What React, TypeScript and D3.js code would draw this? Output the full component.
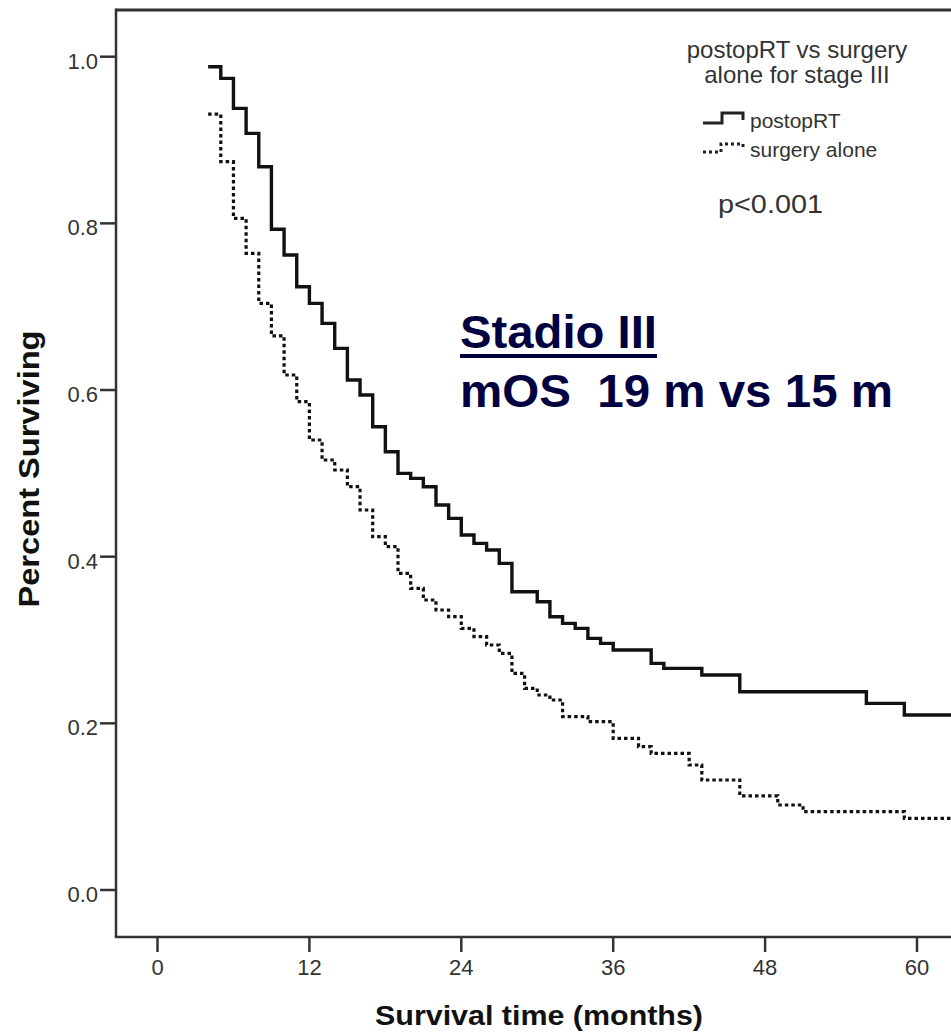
import React from "react";
import * as d3 from "d3";

// ---- Data ----
const xTicks = [0, 12, 24, 36, 48, 60];
const yTicks = [0, 0.2, 0.4, 0.6, 0.8, 1.0];

const postopTimes = [4, 5, 6, 7, 8, 9, 10, 11, 12, 13, 14, 15, 16, 17, 18, 19, 20, 21, 22, 23, 24, 25, 26, 27, 28, 30, 31, 32, 33, 34, 35, 36, 39, 40, 43, 46, 56, 59, 63];
const postopSurv = [0.988, 0.974, 0.938, 0.908, 0.868, 0.793, 0.762, 0.724, 0.704, 0.68, 0.65, 0.612, 0.594, 0.556, 0.526, 0.5, 0.494, 0.484, 0.462, 0.446, 0.426, 0.416, 0.408, 0.392, 0.358, 0.346, 0.328, 0.32, 0.314, 0.302, 0.296, 0.288, 0.272, 0.266, 0.258, 0.238, 0.224, 0.21, 0.21];

const surgeryTimes = [4, 5, 6, 7, 8, 9, 10, 11, 12, 13, 14, 15, 16, 17, 18, 19, 20, 21, 22, 23, 24, 25, 26, 27, 28, 29, 30, 31, 32, 34, 36, 38, 39, 42, 43, 46, 49, 51, 59, 63];
const surgerySurv = [0.931, 0.874, 0.806, 0.764, 0.704, 0.665, 0.618, 0.586, 0.54, 0.516, 0.504, 0.484, 0.456, 0.424, 0.412, 0.38, 0.362, 0.348, 0.336, 0.328, 0.314, 0.304, 0.294, 0.284, 0.26, 0.242, 0.234, 0.228, 0.208, 0.202, 0.182, 0.172, 0.164, 0.15, 0.132, 0.113, 0.102, 0.094, 0.086, 0.086];

const legendTitle = ["postopRT vs surgery", "alone for stage III"];
const seriesNames = ["postopRT", "surgery alone"];
const pValue = "p<0.001";

const W = 951;
const H = 1034;
const axisLeft = 116;
const axisBottom = 937;
const frameTop = 10;

export default function App() {
  const x = d3.scaleLinear().domain([0, 60]).range([157.5, 917]);
  const y = d3.scaleLinear().domain([0, 1]).range([890, 56.7]);

  const line = d3
    .line<[number, number]>()
    .x((d) => x(d[0]))
    .y((d) => y(d[1]))
    .curve(d3.curveStepAfter);

  const postopPts: [number, number][] = postopTimes.map((t, i) => [t, postopSurv[i]]);
  const surgeryPts: [number, number][] = surgeryTimes.map((t, i) => [t, surgerySurv[i]]);

  const axisColor = "#333";
  const tickFont = "Arial, 'Liberation Sans', sans-serif";

  return (
    <div style={{ position: "absolute", left: 0, top: 0 }}>
      <svg width={W} height={H} viewBox={`0 0 ${W} ${H}`} style={{ display: "block", background: "#fff" }}>
        <defs>
          <clipPath id="plotClip">
            <rect x={axisLeft} y={frameTop} width={W - axisLeft} height={axisBottom - frameTop} />
          </clipPath>
        </defs>

        {/* frame */}
        <line x1={axisLeft} x2={W} y1={frameTop} y2={frameTop} stroke={axisColor} strokeWidth={3} />
        <line x1={axisLeft} x2={axisLeft} y1={frameTop - 1.5} y2={axisBottom} stroke={axisColor} strokeWidth={2.5} />
        <line x1={axisLeft - 1.2} x2={W} y1={axisBottom} y2={axisBottom} stroke={axisColor} strokeWidth={2.5} />

        {/* y ticks */}
        {yTicks.map((v) => (
          <g key={"y" + v}>
            <line x1={axisLeft - 16} x2={axisLeft} y1={y(v)} y2={y(v)} stroke={axisColor} strokeWidth={2.5} />
            <text
              x={axisLeft - 18}
              y={y(v) + 12}
              textAnchor="end"
              fontFamily={tickFont}
              fontSize={22}
              fill="#333"
            >
              {v.toFixed(1)}
            </text>
          </g>
        ))}

        {/* x ticks */}
        {xTicks.map((v) => (
          <g key={"x" + v}>
            <line x1={x(v)} x2={x(v)} y1={axisBottom} y2={axisBottom + 15} stroke={axisColor} strokeWidth={2.5} />
            <text x={x(v)} y={975} textAnchor="middle" fontFamily={tickFont} fontSize={22} fill="#333">
              {v}
            </text>
          </g>
        ))}

        {/* axis titles */}
        <text
          x={539}
          y={1025}
          textAnchor="middle"
          fontFamily={tickFont}
          fontWeight="bold"
          fontSize={28}
          fill="#111"
          textLength={328}
          lengthAdjust="spacingAndGlyphs"
        >
          Survival time (months)
        </text>
        <text
          transform={`translate(39, 469) rotate(-90)`}
          textAnchor="middle"
          fontFamily={tickFont}
          fontWeight="bold"
          fontSize={30}
          fill="#111"
          textLength={277}
          lengthAdjust="spacingAndGlyphs"
        >
          Percent Surviving
        </text>

        {/* curves */}
        <g clipPath="url(#plotClip)">
          <path d={line(postopPts) || ""} fill="none" stroke="#111" strokeWidth={3.4} />
          <path d={line(surgeryPts) || ""} fill="none" stroke="#111" strokeWidth={3.2} strokeDasharray="3.5,3" />
        </g>

        {/* legend */}
        {legendTitle.map((t, i) => (
          <text
            key={t}
            x={797}
            y={58 + i * 25}
            textAnchor="middle"
            fontFamily={tickFont}
            fontSize={24}
            fill="#333"
          >
            {t}
          </text>
        ))}
        <path d="M703,123 H722 V113 H743 V120" fill="none" stroke="#222" strokeWidth={3} />
        <path d="M703,152 H721 V144 H743 V149" fill="none" stroke="#222" strokeWidth={3} strokeDasharray="3,3" />
        <text x={750} y={128} fontFamily={tickFont} fontSize={21} fill="#333">
          {seriesNames[0]}
        </text>
        <text x={750} y={157} fontFamily={tickFont} fontSize={21} fill="#333">
          {seriesNames[1]}
        </text>
        <text x={718} y={213} fontFamily={tickFont} fontSize={26} fill="#333" textLength={105} lengthAdjust="spacingAndGlyphs">
          {pValue}
        </text>

        {/* annotation */}
        <text
          x={460}
          y={348}
          fontFamily={tickFont}
          fontWeight="bold"
          fontSize={47}
          fill="#000040"
          textLength={197}
          lengthAdjust="spacingAndGlyphs"
        >
          Stadio III
        </text>
        <rect x={460} y={354} width={197} height={4} fill="#000040" />
        <text
          x={460}
          y={407}
          fontFamily={tickFont}
          fontWeight="bold"
          fontSize={47}
          fill="#000040"
          style={{ whiteSpace: "pre" }}
          textLength={433}
          lengthAdjust="spacingAndGlyphs"
        >
          {"mOS  19 m vs 15 m"}
        </text>
      </svg>
    </div>
  );
}
